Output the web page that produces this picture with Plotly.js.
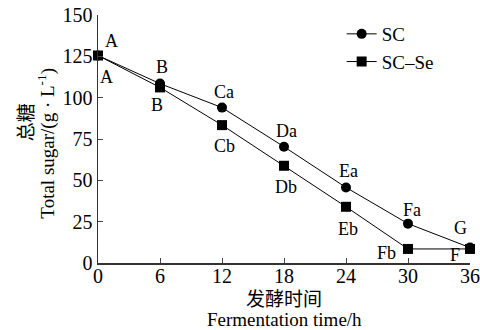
<!DOCTYPE html>
<html><head><meta charset="utf-8">
<script src="https://cdn.plot.ly/plotly-3.0.1.min.js"></script>
<style>body{margin:0}#c{width:480px;height:330px}</style>
</head><body><div id="c"></div>
<script>
const hours = [0, 6, 12, 18, 24, 30, 36];
const sc = [125.5, 108.5, 94, 70.3, 45.7, 23.8, 9.3];
const scSe = [125.5, 106.2, 83.4, 58.8, 34, 8.5, 8.5];
const labelsSC = ["A", "B", "Ca", "Da", "Ea", "Fa", "G"];
const labelsSCSe = ["A", "B", "Cb", "Db", "Eb", "Fb", "F"];
const yTicks = [0, 25, 50, 75, 100, 125, 150];
const xTicks = [0, 6, 12, 18, 24, 30, 36];
const xTitleCN = '发酵时间';
const xTitleEN = 'Fermentation time/h';
const yTitleCN = '总糖';
const yTitleEN = 'Total sugar/(g · L<sup>-1</sup>)';

const FONT = 'Liberation Serif, Noto Sans CJK SC, serif';
const shiftsSC = [[13, 15], [2, 17], [2, 16], [2, 16], [2, 16], [4, 14], [-10, 20]];
const shiftsSe = [[8, -21], [-3, -18], [2, -21], [2, -21], [2, -22], [-22, -4], [-15, -6]];

const annotations = [];
hours.forEach((h, i) => {
  annotations.push({x: h, y: sc[i], xref: 'x', yref: 'y', text: labelsSC[i], showarrow: false,
    xshift: shiftsSC[i][0], yshift: shiftsSC[i][1], font: {family: FONT, size: 18, color: '#000'}});
  annotations.push({x: h, y: scSe[i], xref: 'x', yref: 'y', text: labelsSCSe[i], showarrow: false,
    xshift: shiftsSe[i][0], yshift: shiftsSe[i][1], font: {family: FONT, size: 18, color: '#000'}});
});
// axis titles
annotations.push({xref: 'paper', yref: 'paper', x: 0.5, y: -0.148, xanchor: 'center', yanchor: 'middle',
  text: xTitleCN, showarrow: false, font: {family: FONT, size: 19, color: '#000'}});
annotations.push({xref: 'paper', yref: 'paper', x: 0.5, y: -0.226, xanchor: 'center', yanchor: 'middle',
  text: xTitleEN, showarrow: false, font: {family: FONT, size: 19, color: '#000'}});
annotations.push({xref: 'paper', yref: 'paper', x: -0.19, y: 0.569, xanchor: 'center', yanchor: 'middle',
  text: yTitleCN, textangle: -90, showarrow: false, font: {family: FONT, size: 19, color: '#000'}});
annotations.push({xref: 'paper', yref: 'paper', x: -0.138, y: 0.484, xanchor: 'center', yanchor: 'middle',
  text: yTitleEN, textangle: -90, showarrow: false, font: {family: FONT, size: 19, color: '#000'}});

const traces = [
  {x: hours, y: sc, name: 'SC', mode: 'lines+markers', cliponaxis: false,
   line: {color: '#000', width: 1}, marker: {symbol: 'circle', size: 10, color: '#000'}},
  {x: hours, y: scSe, name: 'SC\u2013Se', mode: 'lines+markers', cliponaxis: false,
   line: {color: '#000', width: 1}, marker: {symbol: 'square', size: 10, color: '#000'}}
];

const layout = {
  width: 480, height: 330,
  margin: {l: 98, r: 10, t: 15, b: 67},
  paper_bgcolor: '#fff', plot_bgcolor: '#fff',
  font: {family: FONT, size: 18, color: '#000'},
  showlegend: true,
  legend: {x: 0.655, y: 1.0, xanchor: 'left', yanchor: 'top', bgcolor: 'rgba(0,0,0,0)',
    font: {family: FONT, size: 19}, itemwidth: 30, tracegroupgap: 0},
  xaxis: {range: [0, 36], tickvals: xTicks, ticktext: xTicks.map(String), ticks: 'inside', ticklen: 5,
    showline: true, linecolor: '#333', linewidth: 1.5, showgrid: false, zeroline: false,
    ticklabelposition: 'outside', ticklabelstandoff: -6,
    tickfont: {family: FONT, size: 20}},
  yaxis: {range: [0, 150], tickvals: yTicks, ticktext: yTicks.map(String), ticks: 'inside', ticklen: 5,
    showline: true, linecolor: '#333', linewidth: 1.5, showgrid: false, zeroline: false,
    tickfont: {family: FONT, size: 20}},
  annotations: annotations
};
Plotly.newPlot('c', traces, layout, {displayModeBar: false, staticPlot: true});
</script></body></html>
